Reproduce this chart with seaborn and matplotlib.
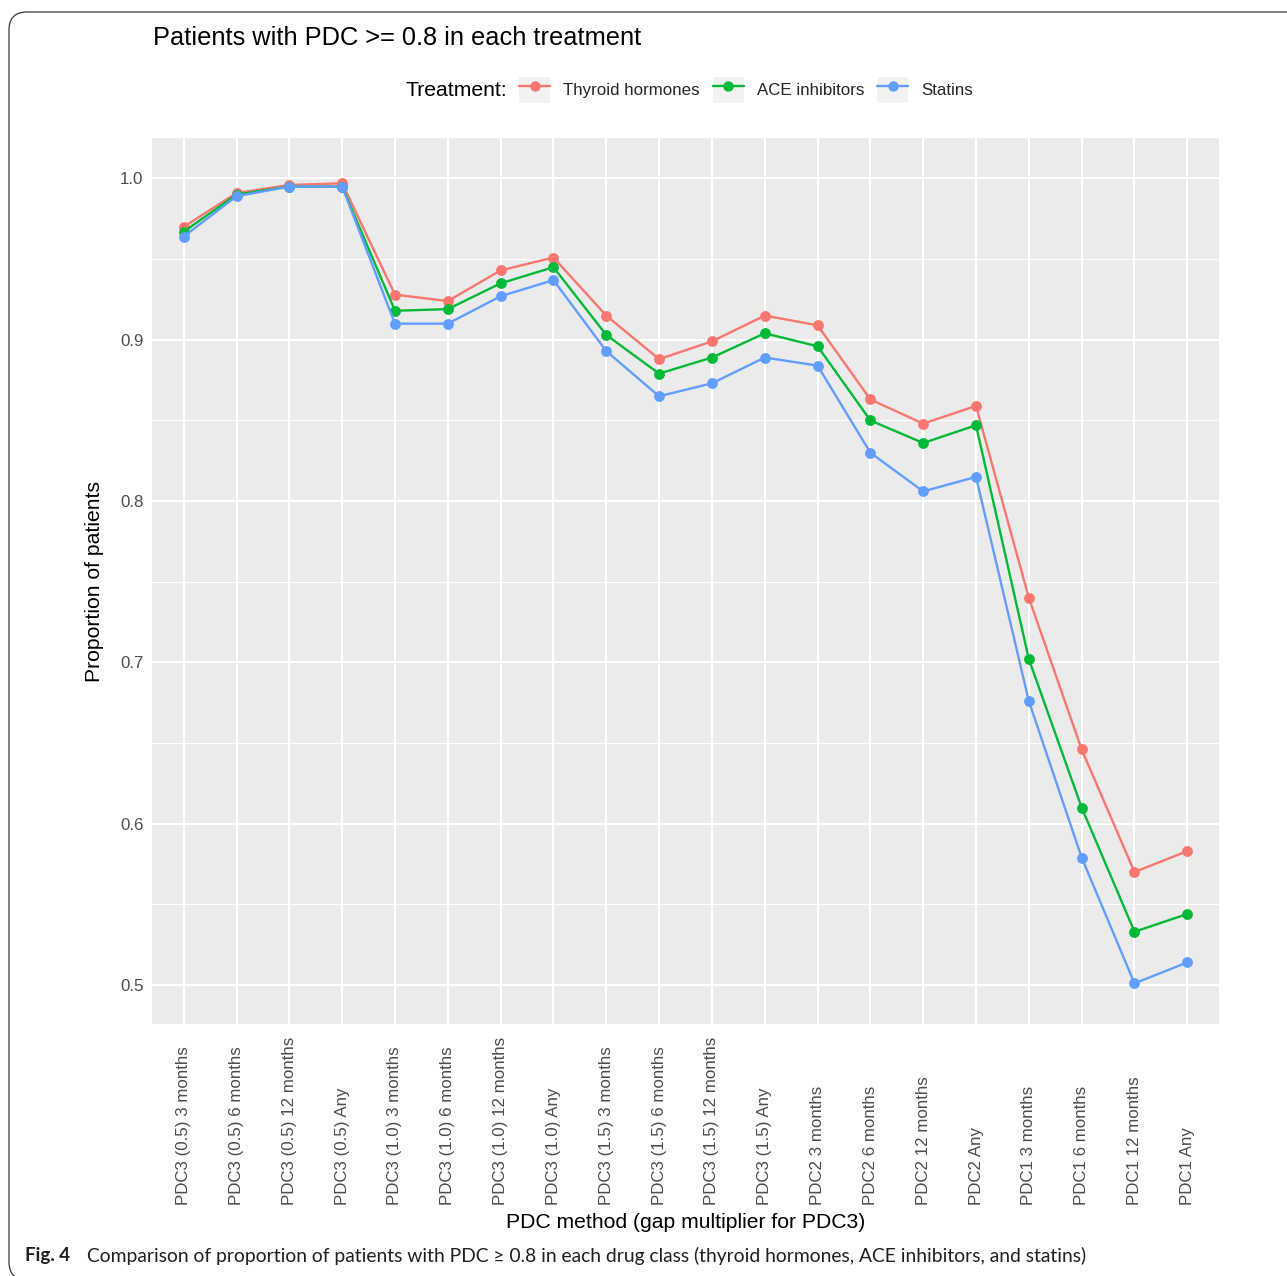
import matplotlib
matplotlib.use("Agg")
import matplotlib.pyplot as plt
import numpy as np
import pandas as pd
import seaborn as sns
from matplotlib.lines import Line2D
from matplotlib.patches import Rectangle, FancyBboxPatch
from matplotlib.legend_handler import HandlerLine2D
from matplotlib.ticker import FixedLocator

# ---- data -------------------------------------------------------------
methods = [
    "PDC3 (0.5) 3 months", "PDC3 (0.5) 6 months", "PDC3 (0.5) 12 months", "PDC3 (0.5) Any",
    "PDC3 (1.0) 3 months", "PDC3 (1.0) 6 months", "PDC3 (1.0) 12 months", "PDC3 (1.0) Any",
    "PDC3 (1.5) 3 months", "PDC3 (1.5) 6 months", "PDC3 (1.5) 12 months", "PDC3 (1.5) Any",
    "PDC2 3 months", "PDC2 6 months", "PDC2 12 months", "PDC2 Any",
    "PDC1 3 months", "PDC1 6 months", "PDC1 12 months", "PDC1 Any",
]
thyroid = [0.970, 0.991, 0.996, 0.997, 0.928, 0.924, 0.943, 0.951, 0.915, 0.888,
           0.899, 0.915, 0.909, 0.863, 0.848, 0.859, 0.740, 0.646, 0.570, 0.583]
ace = [0.967, 0.990, 0.995, 0.995, 0.918, 0.919, 0.935, 0.945, 0.903, 0.879,
       0.889, 0.904, 0.896, 0.850, 0.836, 0.847, 0.702, 0.610, 0.533, 0.544]
statins = [0.964, 0.989, 0.995, 0.995, 0.910, 0.910, 0.927, 0.937, 0.893, 0.865,
           0.873, 0.889, 0.884, 0.830, 0.806, 0.815, 0.676, 0.579, 0.501, 0.514]
treatments = ["Thyroid hormones", "ACE inhibitors", "Statins"]
colors = ["#F8766D", "#00BA38", "#619CFF"]
y_ticks = [0.5, 0.6, 0.7, 0.8, 0.9, 1.0]
y_minor = [0.55, 0.65, 0.75, 0.85, 0.95]

df = pd.DataFrame({
    "Method": methods * 3,
    "Proportion": thyroid + ace + statins,
    "Treatment": np.repeat(treatments, len(methods)),
})

# ---- style ------------------------------------------------------------
sns.set_style("darkgrid", {"axes.facecolor": "#EBEBEB", "grid.color": "white"})
plt.rcParams["font.family"] = ["Liberation Sans", "DejaVu Sans"]

W, H, DPI = 1287, 1276, 100
fig = plt.figure(figsize=(W / DPI, H / DPI), dpi=DPI)
fig.patch.set_facecolor("white")


def fx(px):
    return px / W


def fy(py):
    return 1 - py / H


ax = fig.add_axes([fx(152), fy(1024), fx(1219) - fx(152), fy(138) - fy(1024)])

sns.pointplot(
    data=df, x="Method", y="Proportion", hue="Treatment",
    order=methods, hue_order=treatments, palette=colors,
    errorbar=None, markers="o", linestyles="-", dodge=False,
    markersize=6.5, linewidth=1.7, legend=False, ax=ax,
)

ax.set_xlim(-0.6, len(methods) - 0.4)
ax.set_ylim(0.4758, 1.0251)
ax.set_yticks(y_ticks)
ax.set_yticklabels([f"{v:.1f}" for v in y_ticks])
ax.yaxis.set_minor_locator(FixedLocator(y_minor))

ax.grid(which="major", axis="both", color="white", linewidth=1.5)
ax.grid(which="minor", axis="y", color="white", linewidth=0.75)
ax.set_axisbelow(True)
for s in ax.spines.values():
    s.set_visible(False)

ax.set_xlabel("")
ax.set_ylabel("")
ax.tick_params(axis="both", which="major", length=3.6, width=0.9, color="#333333",
               labelcolor="#4D4D4D", labelsize=12.2)
ax.tick_params(axis="y", which="major", pad=2.5)
ax.tick_params(axis="y", which="minor", length=0)
# rotated labels sit on a common baseline below the axis and grow upward
ax.tick_params(axis="x", which="major", pad=126.5)
for lab in ax.get_xticklabels():
    lab.set_rotation(90)
    lab.set_verticalalignment("bottom")
    lab.set_horizontalalignment("center")

# ---- titles -------------------------------------------------------------
fig.text(fx(153), fy(38), "Patients with PDC >= 0.8 in each treatment",
         fontsize=18.3, color="black", ha="left", va="center")
fig.text(fx(686), fy(1223), "PDC method (gap multiplier for PDC3)",
         fontsize=15.2, color="black", ha="center", va="center")
fig.text(fx(95), fy(582), "Proportion of patients", rotation=90,
         fontsize=15.2, color="black", ha="center", va="center")


# ---- legend (top, horizontal, grey key boxes) -------------------------
class KeyBoxHandler(HandlerLine2D):
    def create_artists(self, legend, orig_handle, xdescent, ydescent,
                       width, height, fontsize, trans):
        box = Rectangle((-xdescent, -ydescent), width, height,
                        facecolor="#F2F2F2", edgecolor="none", transform=trans)
        arts = super().create_artists(legend, orig_handle, xdescent, ydescent,
                                      width, height, fontsize, trans)
        return [box] + list(arts)


handles = [Line2D([], [], color=c, marker="o", markersize=6.5, linewidth=1.7)
           for c in colors]
fig.text(fx(405), fy(90), "Treatment:", fontsize=15.2, color="black",
         ha="left", va="center")
fig.legend(handles, treatments, loc="center left",
           bbox_to_anchor=(fx(519), fy(90)), ncol=3, frameon=False,
           fontsize=12.2, handlelength=1.83, handleheight=1.95,
           handletextpad=0.77, columnspacing=0.77, borderpad=0,
           borderaxespad=0, handler_map={Line2D: KeyBoxHandler(numpoints=1)})

# ---- caption and frame -------------------------------------------------
cap_font = ["Lato", "DejaVu Sans"]
fig.text(fx(25), fy(1256), "Fig. 4", family=cap_font, fontweight="bold",
         fontsize=13.5, color="#231F20", ha="left", va="center")
cap = fig.text(fx(87), fy(1256),
               "Comparison of proportion of patients with PDC \u2265 0.8 in each drug class "
               "(thyroid hormones, ACE inhibitors, and statins)",
               family=cap_font, fontsize=13.5, color="#231F20", ha="left", va="center")
renderer = fig.canvas.get_renderer()
w = cap.get_window_extent(renderer).width
cap.set_fontsize(13.5 * 1000 / w)

frame = FancyBboxPatch((9 / DPI, -4 / DPI), (W + 40) / DPI, (H - 12 + 4) / DPI,
                       boxstyle="round,pad=0,rounding_size=0.18",
                       transform=fig.dpi_scale_trans, facecolor="none",
                       edgecolor="#3A3A3A", linewidth=0.9)
fig.patches.append(frame)

fig.savefig("out.png", dpi=DPI)
